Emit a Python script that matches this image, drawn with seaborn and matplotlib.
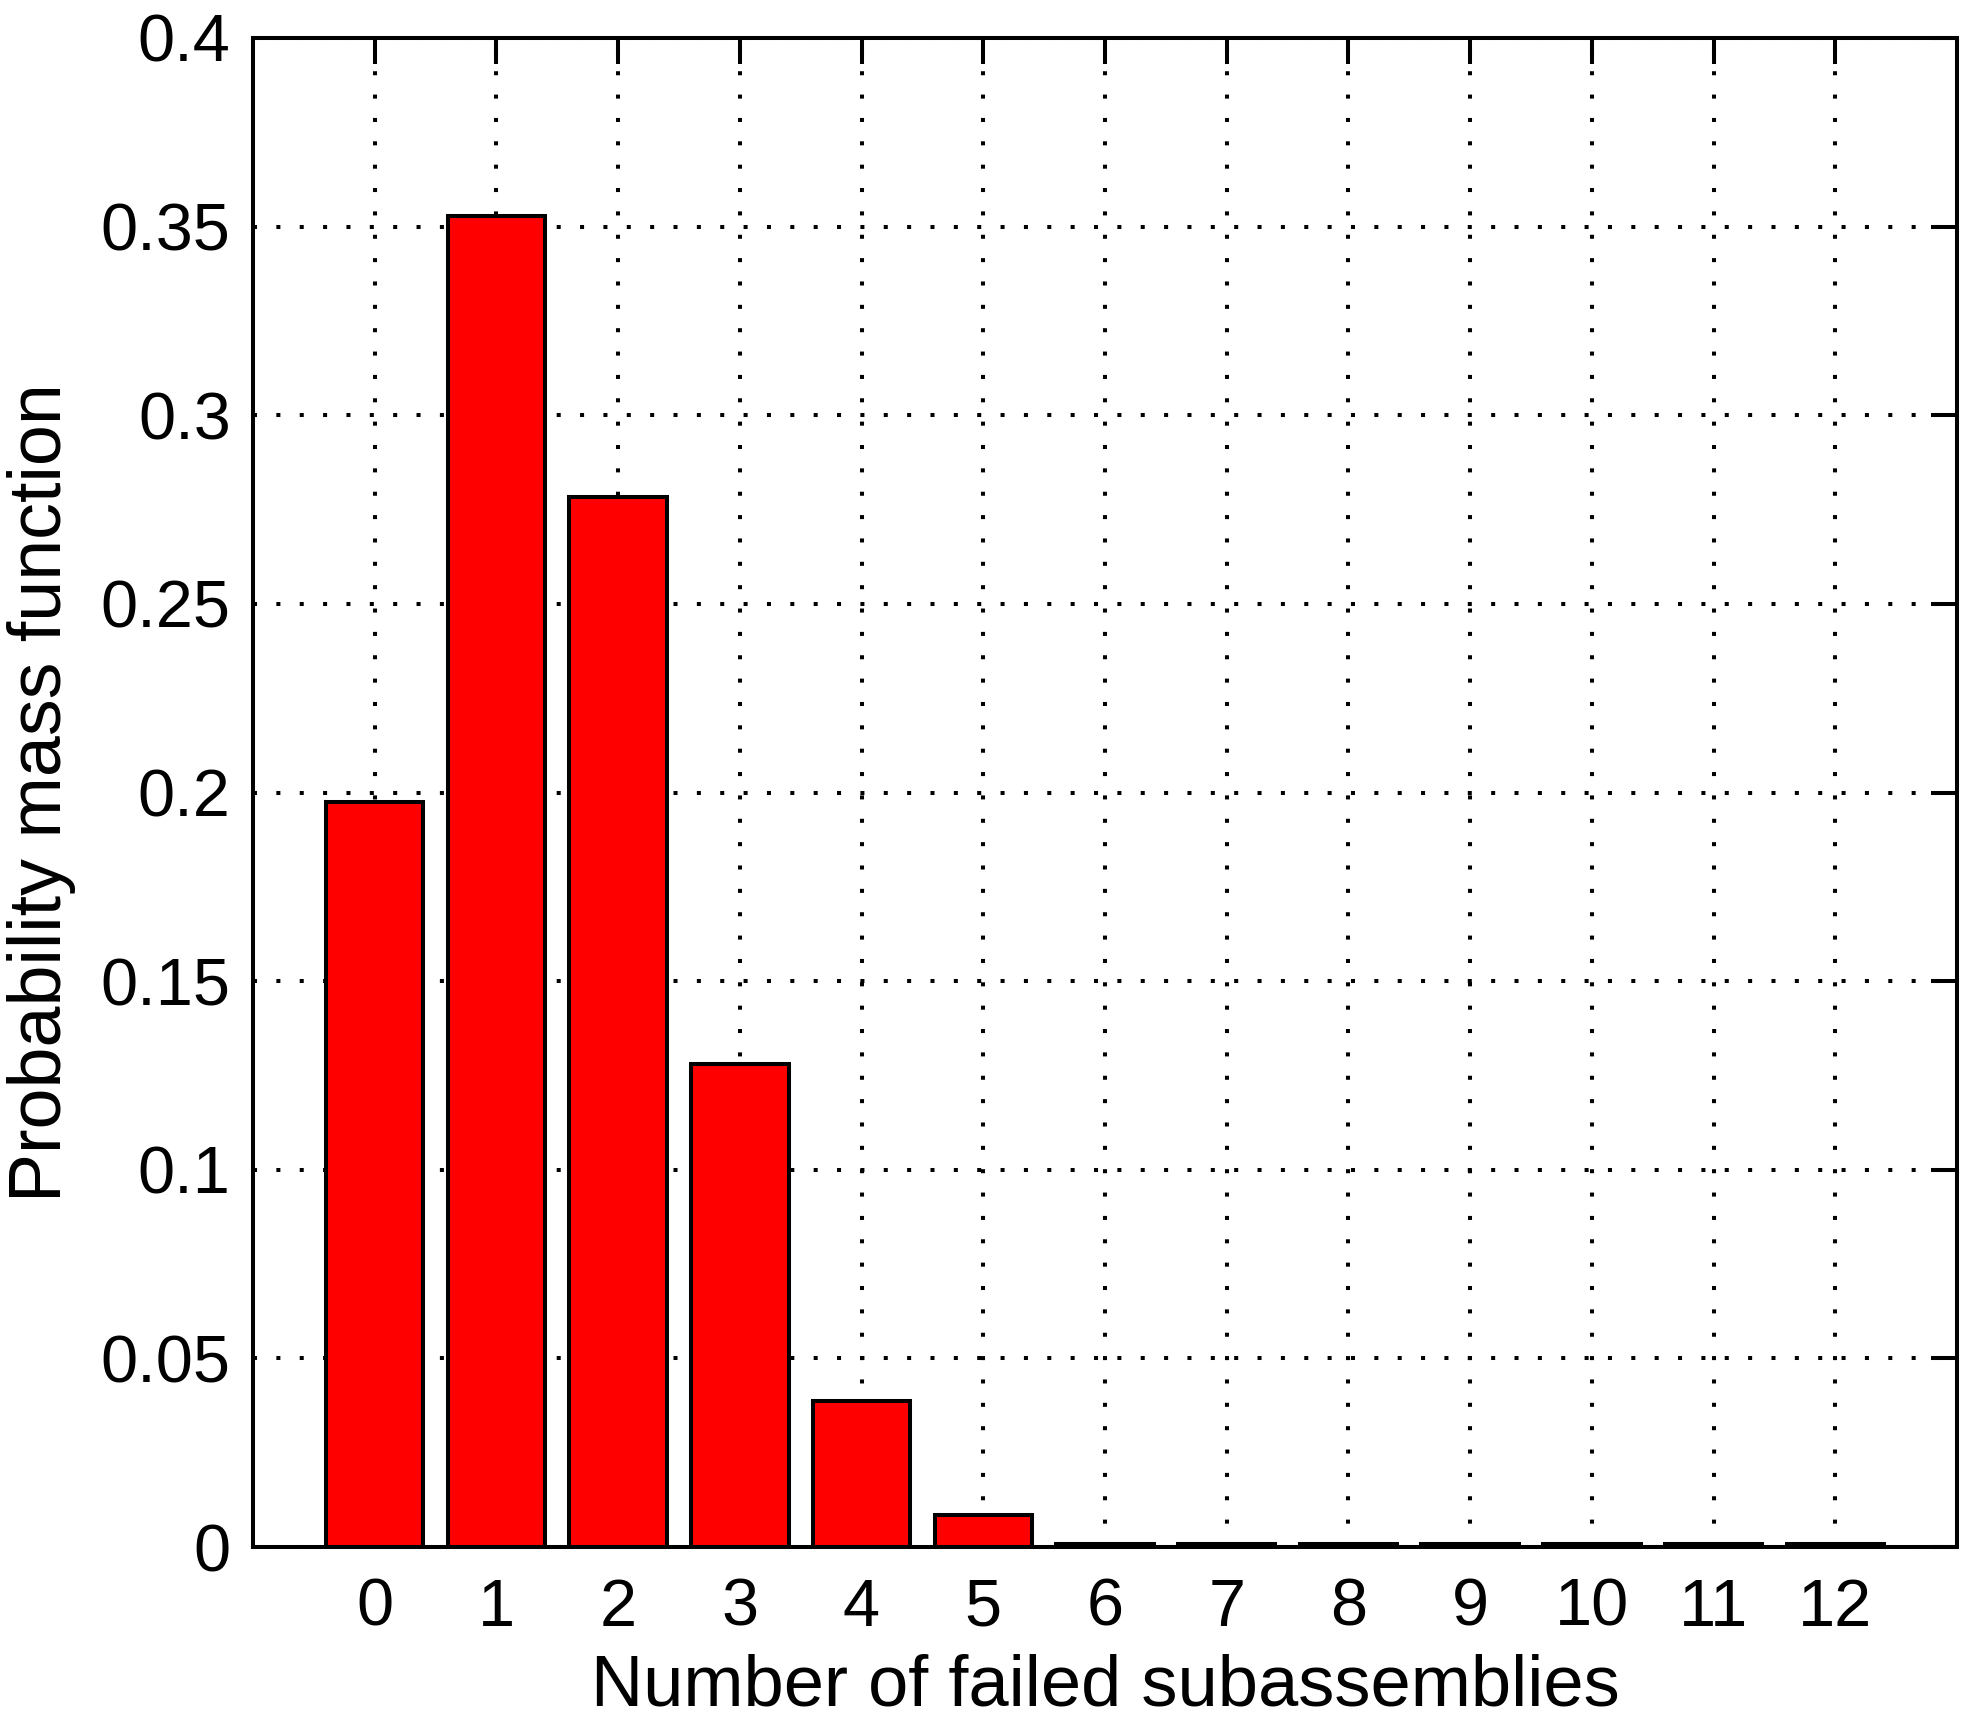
import matplotlib
matplotlib.use('Agg')
import matplotlib.pyplot as plt
import seaborn as sns
import pandas as pd

# values
failed = [0, 1, 2, 3, 4, 5, 6, 7, 8, 9, 10, 11, 12]
pmf = [0.1975, 0.3528, 0.2783, 0.1280, 0.0386, 0.0086, 0.0008,
       0.0007, 0.0007, 0.0007, 0.0007, 0.0007, 0.0007]
y_ticks = [0, 0.05, 0.1, 0.15, 0.2, 0.25, 0.3, 0.35, 0.4]
y_tick_labels = ['0', '0.05', '0.1', '0.15', '0.2', '0.25', '0.3', '0.35', '0.4']

df = pd.DataFrame({'failed': failed, 'pmf': pmf})

sns.set_style('white')
plt.rcParams['font.family'] = ['Liberation Sans', 'DejaVu Sans']

fig = plt.figure(figsize=(19.67, 17.27), dpi=100)
ax = fig.add_axes([0.1286, 0.1042, 0.8663, 0.8738])

sns.barplot(data=df, x='failed', y='pmf', color='red', saturation=1,
            edgecolor='black', linewidth=2.9, width=0.8, ax=ax, zorder=3)

ax.set_xlim(-1, 13)
ax.set_ylim(0, 0.4)
ax.set_yticks(y_ticks)
ax.set_yticklabels(y_tick_labels)
ax.set_xticks(range(len(failed)))
ax.set_xticklabels([str(f) for f in failed])

ax.grid(True, color='black', linestyle=(0, (1, 4.8)), linewidth=2.9, zorder=0)
ax.set_axisbelow(True)
for s in ax.spines.values():
    s.set_color('black')
    s.set_linewidth(2.9)
    s.set_zorder(5)

ax.tick_params(direction='in', length=19, width=2.9, top=True, right=True,
               labelsize=48, color='black', labelcolor='black')
ax.tick_params(axis='y', pad=16)
ax.tick_params(axis='x', pad=22)

ax.set_xlabel('Number of failed subassemblies', fontsize=52, labelpad=10, color='black')
ax.set_ylabel('Probability mass function', fontsize=53, labelpad=18, color='black')

fig.savefig('out.png', dpi=100)
